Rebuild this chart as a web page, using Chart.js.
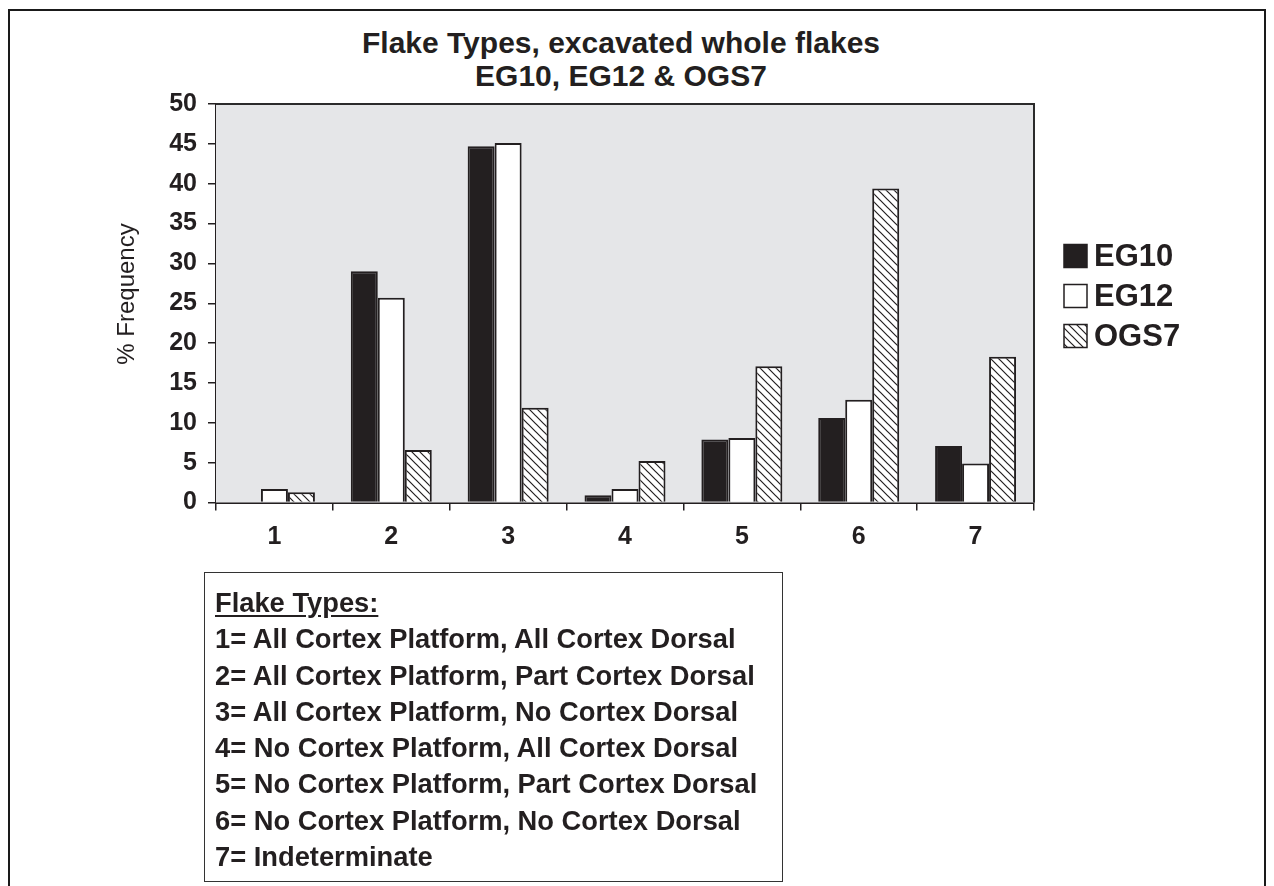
<!DOCTYPE html>
<html>
<head>
<meta charset="utf-8">
<title>Flake Types</title>
<script src="https://cdn.jsdelivr.net/npm/chart.js@4.4.1/dist/chart.umd.min.js"></script>
<style>
  body { margin: 0; background: #fff; }
  #wrap { position: relative; width: 1274px; height: 886px; overflow: hidden; font-family: "Liberation Sans", Arial, sans-serif; color: #231f20; }
  #frame { position: absolute; left: 8px; top: 9px; width: 1254px; height: 920px; border: 2px solid #1a1a1a; }
  #chartTitle { position: absolute; left: 0; top: 26px; width: 1242px; text-align: center; font-weight: bold; font-size: 30px; line-height: 33px; }
  #chart { position: absolute; left: 0; top: 0; }
  #key { position: absolute; left: 204px; top: 572px; width: 567px; height: 296px; border: 1.5px solid #333; padding: 12px 0 0 10px; font-weight: bold; font-size: 27.3px; line-height: 36.3px; white-space: nowrap; }
  #key u { text-underline-offset: 3px; }
</style>
</head>
<body>
<div id="wrap">
  <div id="frame"></div>
  <div id="chartTitle">Flake Types, excavated whole flakes<br>EG10, EG12 &amp; OGS7</div>
  <canvas id="chart" width="1274" height="886"></canvas>
  <div id="key"></div>
</div>
<script>
// flake type categories and % frequency per site
const categories = ['1', '2', '3', '4', '5', '6', '7'];
const seriesNames = ['EG10', 'EG12', 'OGS7'];
const eg10 = [0, 29.0, 44.7, 0.9, 7.9, 10.6, 7.1];
const eg12 = [1.7, 25.7, 45.1, 1.7, 8.1, 12.9, 4.9];
const ogs7 = [1.3, 6.6, 11.9, 5.2, 17.1, 39.4, 18.3];
const yTicks = [0, 5, 10, 15, 20, 25, 30, 35, 40, 45, 50];
const yTitle = '% Frequency';

const keyTitle = 'Flake Types:';
const keyLines = [
  '1= All Cortex Platform, All Cortex Dorsal',
  '2= All Cortex Platform, Part Cortex Dorsal',
  '3= All Cortex Platform, No Cortex Dorsal',
  '4= No Cortex Platform, All Cortex Dorsal',
  '5= No Cortex Platform, Part Cortex Dorsal',
  '6= No Cortex Platform, No Cortex Dorsal',
  '7= Indeterminate'
];

const INK = '#231f20';
const FONT = '"Liberation Sans", Arial, sans-serif';

// key box under the chart
const keyEl = document.getElementById('key');
keyEl.innerHTML = '<u>' + keyTitle + '</u><br>' + keyLines.join('<br>');

// diagonal hatching for the OGS7 bars
function makeHatch() {
    const c = document.createElement('canvas');
    c.width = 8; c.height = 8;
    const g = c.getContext('2d');
    g.fillStyle = '#fff';
    g.fillRect(0, 0, 8, 8);
    g.strokeStyle = INK;
    g.lineWidth = 1.2;
    g.beginPath();
    g.moveTo(-2, -2); g.lineTo(10, 10);
    g.moveTo(-2, 6); g.lineTo(2, 10);
    g.moveTo(6, -2); g.lineTo(10, 2);
    g.stroke();
    return g.createPattern(c, 'repeat');
}
const hatch = makeHatch();

// grey plot background plus top/right frame
const plotFrame = {
    id: 'plotFrame',
    beforeDatasetsDraw(chart) {
        const { ctx, chartArea: a } = chart;
        ctx.save();
        ctx.fillStyle = '#e5e6e8';
        ctx.fillRect(a.left, a.top, a.right - a.left, a.bottom - a.top);
        ctx.restore();
    },
    afterDatasetsDraw(chart) {
        const { ctx, chartArea: a } = chart;
        ctx.save();
        ctx.strokeStyle = '#2b2b2b';
        ctx.lineWidth = 2;
        ctx.beginPath();
        ctx.moveTo(a.left, a.top);
        ctx.lineTo(a.right, a.top);
        ctx.lineTo(a.right, a.bottom);
        ctx.stroke();
        ctx.restore();
    }
};

// rotated y title and the legend at the right
const sideText = {
    id: 'sideText',
    afterDraw(chart) {
        const ctx = chart.ctx;
        ctx.save();
        ctx.fillStyle = INK;
        ctx.font = '24px ' + FONT;
        ctx.textAlign = 'center';
        ctx.textBaseline = 'middle';
        ctx.translate(127, 294);
        ctx.rotate(-Math.PI / 2);
        ctx.fillText(yTitle, 0, 0);
        ctx.restore();

        ctx.save();
        chart.data.datasets.forEach((ds, i) => {
            const cy = 256 + i * 40;
            ctx.fillStyle = ds.backgroundColor;
            ctx.fillRect(1064, cy - 11.5, 23, 23);
            ctx.strokeStyle = INK;
            ctx.lineWidth = 1.5;
            ctx.strokeRect(1064, cy - 11.5, 23, 23);
            ctx.fillStyle = INK;
            ctx.font = 'bold 31px ' + FONT;
            ctx.textAlign = 'left';
            ctx.textBaseline = 'middle';
            ctx.fillText(ds.label, 1094, cy + 1);
        });
        ctx.restore();
    }
};

const tickFont = { family: FONT, size: 25, weight: 'bold' };

new Chart(document.getElementById('chart'), {
    type: 'bar',
    data: {
        labels: categories,
        datasets: [
            { label: seriesNames[0], data: eg10, backgroundColor: INK, borderColor: INK, borderWidth: 2 },
            { label: seriesNames[1], data: eg12, backgroundColor: '#ffffff', borderColor: INK, borderWidth: 2 },
            { label: seriesNames[2], data: ogs7, backgroundColor: hatch, borderColor: INK, borderWidth: 2 }
        ]
    },
    options: {
        responsive: false,
        devicePixelRatio: 1,
        animation: false,
        layout: { padding: { left: 136, top: 104, right: 240, bottom: 323.5 } },
        datasets: { bar: { categoryPercentage: 0.693, barPercentage: 1.0 } },
        plugins: { legend: { display: false }, title: { display: false }, tooltip: { enabled: false } },
        scales: {
            x: {
                grid: { drawOnChartArea: false, tickLength: 8, color: INK, lineWidth: 1.5, offset: true },
                border: { display: true, color: INK, width: 2 },
                ticks: { font: tickFont, color: INK, padding: 12, maxRotation: 0 },
                afterFit: s => { s.height = 60; }
            },
            y: {
                min: 0,
                max: 50,
                afterBuildTicks: s => { s.ticks = yTicks.map(v => ({ value: v })); },
                grid: { drawOnChartArea: false, tickLength: 8, color: INK, lineWidth: 1.5 },
                border: { display: true, color: INK, width: 2 },
                ticks: { font: tickFont, color: INK, padding: 11 },
                afterFit: s => { s.width = 80; }
            }
        }
    },
    plugins: [plotFrame, sideText]
});
</script>
</body>
</html>
